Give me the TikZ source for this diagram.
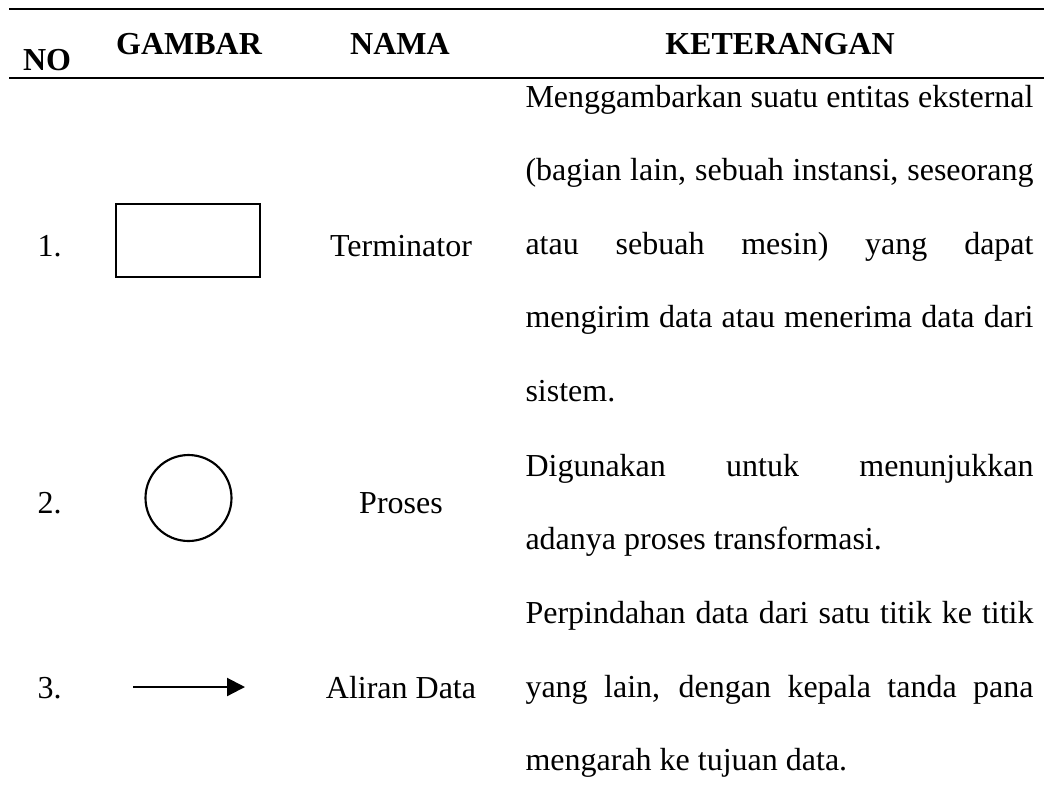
\documentclass[tikz,border=0pt]{standalone}
\usepackage{fontspec}
\setmainfont{Liberation Serif}
\usetikzlibrary{arrows.meta, positioning}
\tolerance=10000
\hbadness=10000
\hyphenpenalty=10000
\exhyphenpenalty=10000

\begin{document}
\begin{tikzpicture}[
        x=0.375pt, y=-0.375pt,
        txt/.style={inner sep=0pt, anchor=base, font=\fontsize{12}{27.6}\selectfont},
        head/.style={txt, font=\fontsize{12}{27.6}\selectfont\bfseries},
        ket/.style={txt, anchor=base west, text width=190.5pt, align=justify},
        rule/.style={line width=0.95pt},
        arr/.style={-{Triangle[length=6.75pt, width=6.75pt]}, line width=0.8pt}
      ]
      \useasboundingbox (0,0) rectangle (1044,810);
      % header
      \draw[rule] (9,9) -- (1044,9);
      \node[head] (hno) at (47,70) {NO};
      \node[head] (hgambar) at (189,54) {GAMBAR};
      \node[head] (hnama) at (400,54) {NAMA};
      \node[head] (hket) at (780,54) {KETERANGAN};
      \draw[rule] (9,78) -- (1044,78);
      % terminator
      \node[txt, anchor=base west] (no1) at (37,256) {1.};
      \node[draw, line width=0.95pt, minimum width=54pt, minimum height=27.4pt] (term) at (188,240.5) {};
      \node[txt] (nama1) at (401,256) {Terminator};
      \node[ket] (ket1) at (525,107) {Menggambarkan suatu entitas eksternal\linebreak
        (bagian lain, sebuah instansi, seseorang\linebreak
        atau sebuah mesin) yang dapat\linebreak
        mengirim data atau menerima data dari\linebreak
        sistem.};
      % proses
      \node[txt, anchor=base west] (no2) at (37,513) {2.};
      \node[draw, circle, line width=0.8pt, minimum size=32.25pt] (proc) at (188.5,498) {};
      \node[txt] (nama2) at (401,513) {Proses};
      \node[ket] (ket2) at (525,476) {Digunakan untuk menunjukkan\linebreak
        adanya proses transformasi.};
      % aliran data
      \node[txt, anchor=base west] (no3) at (37,698) {3.};
      \coordinate (flowS) at (133,687);
      \coordinate (flowE) at (245,687);
      \draw[arr] (flowS) -- (flowE);
      \node[txt] (nama3) at (401,698) {Aliran Data};
      \node[ket] (ket3) at (525,623.6) {Perpindahan data dari satu titik ke titik\linebreak
        yang lain, dengan kepala tanda pana\linebreak
        mengarah ke tujuan data.};
    \end{tikzpicture}
\end{document}
